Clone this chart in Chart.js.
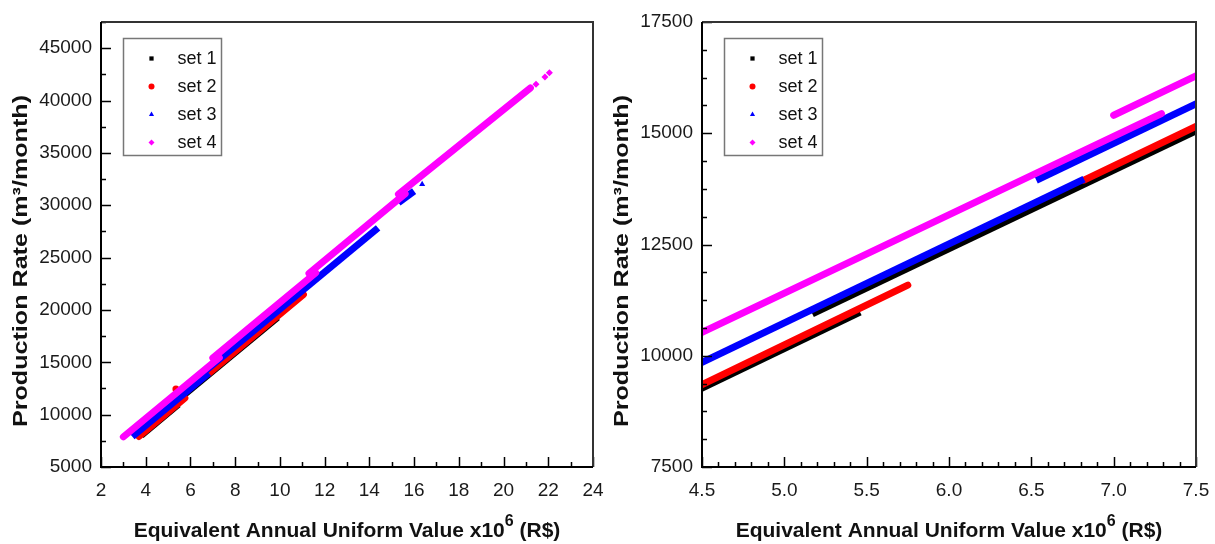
<!DOCTYPE html>
<html lang="en">
<head>
<meta charset="UTF-8">
<title>Production Rate vs Equivalent Annual Uniform Value</title>
<script src="https://cdn.jsdelivr.net/npm/chart.js"></script>
<style>
  html, body { margin: 0; padding: 0; background: #fff; }
  #wrap { position: relative; width: 1215px; height: 544px; }
  canvas { position: absolute; top: 0; }
  #left { left: 0; }
  #right { left: 607px; }
</style>
</head>
<body>
<div id="wrap">
  <canvas id="left" width="607" height="544"></canvas>
  <canvas id="right" width="608" height="544"></canvas>
</div>
<script>
// each segment: [x start, y start, x end, y end]  (x in 10^6 R$, y in m3/month)
const seriesNames = ['set 1', 'set 2', 'set 3', 'set 4'];
const set1Segments = [[3.8, 8030, 5.46, 10980], [5.17, 10940, 9.9, 19290]];
const set2Segments = [[3.7, 7920, 5.75, 11585], [6.82, 13945, 11.05, 21480]];
const set3Segments = [[3.4, 7900, 6.82, 13967], [6.53, 13944, 14.39, 27840], [15.3, 30250, 16.0, 31350]];
const set4Segments = [[3.0, 7880, 7.29, 15443], [7.0, 15404, 11.6, 23545], [11.3, 23490, 15.6, 31100], [15.3, 31045, 21.2, 41200]];
// loose points (only seen on the full-range panel)
const set1Points = [];
const set2Points = [[5.35, 12450]];
const set3Points = [[16.36, 32000]];
const set4Points = [[21.45, 41550], [21.85, 42250], [22.05, 42650]];

const colors = ['#000000', '#ff0000', '#0000ff', '#ff00ff'];
const markers = ['rect', 'circle', 'triangle', 'rectRot'];
const caps = ['butt', 'round', 'butt', 'round'];
const FONT = '"Liberation Sans", Arial, sans-serif';

function buildDatasets(withPoints) {
    const segs = [set1Segments, set2Segments, set3Segments, set4Segments];
    const pts = [set1Points, set2Points, set3Points, set4Points];
    const out = [];
    // set 4 first so it is drawn on top
    for (let s = 3; s >= 0; s--) {
        segs[s].forEach(seg => {
            out.push({
                label: seriesNames[s],
                data: [{x: seg[0], y: seg[1]}, {x: seg[2], y: seg[3]}],
                showLine: true,
                borderColor: colors[s],
                borderWidth: 7,
                borderCapStyle: caps[s],
                pointRadius: 0
            });
        });
        if (withPoints && pts[s].length) {
            out.push({
                label: seriesNames[s],
                data: pts[s].map(p => ({x: p[0], y: p[1]})),
                showLine: false,
                pointStyle: markers[s],
                pointRadius: 3.5,
                backgroundColor: colors[s],
                borderColor: colors[s],
                borderWidth: 0
            });
        }
    }
    return out;
}

function drawMarker(ctx, style, x, y, r) {
    if (Chart.helpers && Chart.helpers.drawPoint) {
        Chart.helpers.drawPoint(ctx, {pointStyle: style, radius: r, borderWidth: 0}, x, y);
        return;
    }
    ctx.beginPath();
    ctx.arc(x, y, r, 0, Math.PI * 2);
    ctx.fill();
}

// frame, inward ticks, axis titles and legend box
function framePlugin(cfg) {
    return {
        id: 'frame',
        afterDraw(chart) {
            const ctx = chart.ctx;
            const a = chart.chartArea;
            const xs = chart.scales.x, ys = chart.scales.y;
            ctx.save();

            // ticks pointing inside
            ctx.strokeStyle = '#000';
            ctx.lineWidth = 1.5;
            ctx.beginPath();
            xs.ticks.forEach(t => {
                const px = Math.round(xs.getPixelForValue(t.value)) + 0.5;
                const len = cfg.xMajor(t.value) ? 10 : 5;
                ctx.moveTo(px, a.bottom);
                ctx.lineTo(px, a.bottom - len);
            });
            ys.ticks.forEach(t => {
                const py = Math.round(ys.getPixelForValue(t.value)) + 0.5;
                const len = cfg.yMajor(t.value) ? 10 : 5;
                ctx.moveTo(a.left, py);
                ctx.lineTo(a.left + len, py);
            });
            ctx.stroke();

            // box
            ctx.lineWidth = 2;
            ctx.strokeStyle = '#333';
            ctx.beginPath();
            ctx.moveTo(a.left, a.top);
            ctx.lineTo(a.right, a.top);
            ctx.lineTo(a.right, a.bottom);
            ctx.stroke();
            ctx.strokeStyle = '#000';
            ctx.beginPath();
            ctx.moveTo(a.left, a.top);
            ctx.lineTo(a.left, a.bottom);
            ctx.lineTo(a.right, a.bottom);
            ctx.stroke();

            // y title
            ctx.fillStyle = '#111';
            ctx.font = 'bold 21px ' + FONT;
            const yTitle = 'Production Rate (m\u00b3/month)';
            const yw = ctx.measureText(yTitle).width;
            ctx.save();
            ctx.translate(cfg.yTitleX, 261);
            ctx.rotate(-Math.PI / 2);
            ctx.scale(332 / yw, 1);
            ctx.textAlign = 'center';
            ctx.textBaseline = 'middle';
            ctx.fillText(yTitle, 0, 0);
            ctx.restore();

            // x title with superscript
            const main = 'Equivalent Annual Uniform Value x10', sup = '6', tail = ' (R$)';
            ctx.textAlign = 'left';
            ctx.textBaseline = 'alphabetic';
            ctx.font = 'bold 21px ' + FONT;
            const w1 = ctx.measureText(main).width, w3 = ctx.measureText(tail).width;
            ctx.font = 'bold 16px ' + FONT;
            const w2 = ctx.measureText(sup).width;
            const x0 = (a.left + a.right) / 2 - (w1 + w2 + w3) / 2;
            const base = 537;
            ctx.font = 'bold 21px ' + FONT;
            ctx.fillText(main, x0, base);
            ctx.fillText(tail, x0 + w1 + w2, base);
            ctx.font = 'bold 16px ' + FONT;
            ctx.fillText(sup, x0 + w1, base - 11);

            // legend
            const lx = a.left + 22.5, ly = a.top + 16.5, lw = 98, lh = 117;
            ctx.strokeStyle = '#777';
            ctx.lineWidth = 1.5;
            ctx.strokeRect(lx, ly, lw, lh);
            ctx.font = '18px ' + FONT;
            ctx.textBaseline = 'middle';
            seriesNames.forEach((name, i) => {
                const cy = ly + 20 + i * 28;
                ctx.fillStyle = colors[i];
                drawMarker(ctx, markers[i], lx + 28, cy, 3);
                ctx.fillStyle = '#111';
                ctx.fillText(name, lx + 54, cy + 1);
            });
            ctx.restore();
        }
    };
}

function makeChart(id, opt) {
    new Chart(document.getElementById(id), {
        type: 'scatter',
        data: { datasets: buildDatasets(opt.points) },
        options: {
            responsive: false,
            animation: false,
            events: [],
            devicePixelRatio: 1,
            layout: { padding: { left: 0, top: 22, right: opt.padRight, bottom: 0 } },
            plugins: { legend: { display: false }, tooltip: { enabled: false } },
            scales: {
                x: {
                    type: 'linear',
                    min: opt.xMin, max: opt.xMax,
                    grid: { display: false, drawTicks: false },
                    border: { display: false },
                    afterFit: s => { s.height = 77; s.paddingLeft = 0; s.paddingRight = 0; },
                    ticks: {
                        stepSize: opt.xStep,
                        autoSkip: false,
                        maxRotation: 0,
                        padding: 12,
                        color: '#1a1a1a',
                        font: { family: FONT, size: 19 },
                        callback: v => opt.xMajor(v) ? opt.xFmt(v) : ''
                    }
                },
                y: {
                    type: 'linear',
                    min: opt.yMin, max: opt.yMax,
                    grid: { display: false, drawTicks: false },
                    border: { display: false },
                    afterFit: s => { s.width = opt.yWidth; s.paddingTop = 0; s.paddingBottom = 0; },
                    ticks: {
                        stepSize: opt.yStep,
                        autoSkip: false,
                        padding: 9,
                        color: '#1a1a1a',
                        font: { family: FONT, size: 19 },
                        callback: v => opt.yMajor(v) ? String(v) : ''
                    }
                }
            }
        },
        plugins: [framePlugin(opt)]
    });
}

const isMult = (v, m) => Math.abs(v / m - Math.round(v / m)) < 1e-6;

makeChart('left', {
    xMin: 2, xMax: 24, xStep: 1,
    yMin: 5000, yMax: 47500, yStep: 2500,
    xMajor: v => isMult(v, 2), yMajor: v => isMult(v, 5000),
    xFmt: v => String(Math.round(v)),
    yWidth: 101, padRight: 14, yTitleX: 21, points: true
});

makeChart('right', {
    xMin: 4.5, xMax: 7.5, xStep: 0.1,
    yMin: 7500, yMax: 17500, yStep: 625,
    xMajor: v => isMult(v, 0.5), yMajor: v => isMult(v, 2500),
    xFmt: v => v.toFixed(1),
    yWidth: 95, padRight: 19, yTitleX: 15, points: false
});
</script>
</body>
</html>
